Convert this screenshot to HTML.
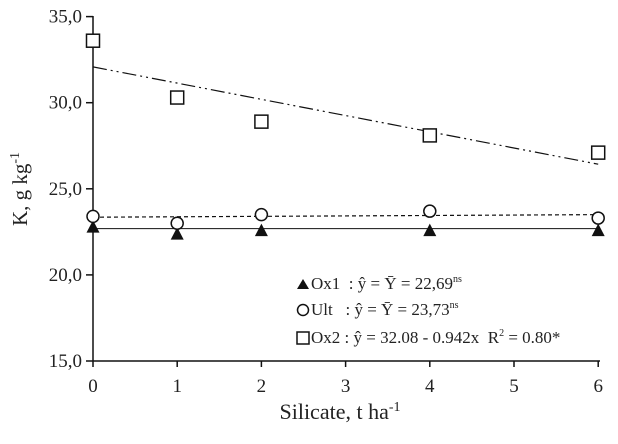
<!DOCTYPE html>
<html><head><meta charset="utf-8"><style>
body{margin:0;background:#fff}
svg text{font-family:"Liberation Serif","DejaVu Serif",serif;fill:#222}
</style></head><body>
<svg width="618" height="439" viewBox="0 0 618 439" font-family="Liberation Serif, DejaVu Serif, serif">
<g id="axes"></g><g id="plot"></g>
<g font-size="17">
 <polygon points="297,289 309,289 303,279" fill="#111"/>
 <text x="311" y="289">Ox1&#160;&#160;: ŷ = Ȳ = 22,69<tspan font-size="10" dy="-7">ns</tspan></text>
 <circle cx="303" cy="310" r="5.5" fill="none" stroke="#111" stroke-width="1.5"/>
 <text x="311" y="315">Ult&#160;&#160;&#160;: ŷ = Ȳ = 23,73<tspan font-size="10" dy="-7">ns</tspan></text>
 <rect x="297" y="332" width="12" height="12" fill="none" stroke="#111" stroke-width="1.5"/>
 <text x="311" y="343">Ox2 : ŷ = 32.08 - 0.942x&#160;&#160;R<tspan font-size="10" dy="-7">2</tspan><tspan dy="7"> = 0.80*</tspan></text>
</g>
<text x="340" y="419" font-size="22" text-anchor="middle">Silicate, t ha<tspan font-size="14" dy="-8">-1</tspan></text>
<text transform="translate(27,189) rotate(-90)" font-size="21" text-anchor="middle">K, g kg<tspan font-size="14" dy="-8">-1</tspan></text>
</svg>
<script>
const xs=[0,1,2,4,6];
const ox1=[22.8,22.4,22.6,22.6,22.6];
const ult=[23.4,23.0,23.5,23.7,23.3];
const ox2=[33.6,30.3,28.9,28.1,27.1];
const yTicks=[15,20,25,30,35];
const yLabels=["15,0","20,0","25,0","30,0","35,0"];
const xTicks=[0,1,2,3,4,5,6];
const ox1Mean=22.69;
const ultFit=[23.35,23.5];
const ox2Fit=[32.08,-0.942];
const X=v=>93+v*84.2, Y=v=>361-(v-15)*17.22;
const NS="http://www.w3.org/2000/svg";
function mk(t,a,p){const e=document.createElementNS(NS,t);for(const k in a)e.setAttribute(k,a[k]);p.appendChild(e);return e;}
const ax=document.getElementById('axes'), pl=document.getElementById('plot');
let e=mk('line',{x1:93,y1:16,x2:93,y2:361,stroke:'#111','stroke-width':1.5},ax);


e=mk('line',{x1:93,y1:361,x2:600,y2:361,stroke:'#111','stroke-width':1.5},ax);


yTicks.forEach((v,i)=>{mk('line',{x1:86,y1:Y(v),x2:93,y2:Y(v),stroke:'#111','stroke-width':1.5},ax);
 const t=mk('text',{x:82,y:Y(v)+6,'text-anchor':'end','font-size':19},ax);t.textContent=yLabels[i];
 
 });
xTicks.forEach(v=>{mk('line',{x1:X(v),y1:361,x2:X(v),y2:367,stroke:'#111','stroke-width':1.5},ax);
 const t=mk('text',{x:X(v),y:392,'text-anchor':'middle','font-size':19},ax);t.textContent=v;
 
 });
e=mk('line',{x1:X(0),y1:Y(ox1Mean),x2:X(6),y2:Y(ox1Mean),stroke:'#111','stroke-width':1},pl);


e=mk('line',{x1:X(0),y1:Y(ultFit[0]),x2:X(6),y2:Y(ultFit[1]),stroke:'#111','stroke-width':1.2,'stroke-dasharray':'4,3'},pl);


e=mk('line',{x1:X(0),y1:Y(ox2Fit[0]),x2:X(6),y2:Y(ox2Fit[0]+ox2Fit[1]*6),stroke:'#111','stroke-width':1.2,'stroke-dasharray':'14,4,2,4,2,4'},pl);


xs.forEach((x,i)=>{
 let m=mk('polygon',{points:`${X(x)-6.5},${Y(ox1[i])+6} ${X(x)+6.5},${Y(ox1[i])+6} ${X(x)},${Y(ox1[i])-6.5}`,fill:'#111'},pl);
 
 
 m=mk('circle',{cx:X(x),cy:Y(ult[i]),r:6,fill:'#fff',stroke:'#111','stroke-width':1.5},pl);
 
 
 m=mk('rect',{x:X(x)-6.5,y:Y(ox2[i])-6.5,width:13,height:13,fill:'#fff',stroke:'#111','stroke-width':1.5},pl);
 
 
});
</script>
</body></html>
